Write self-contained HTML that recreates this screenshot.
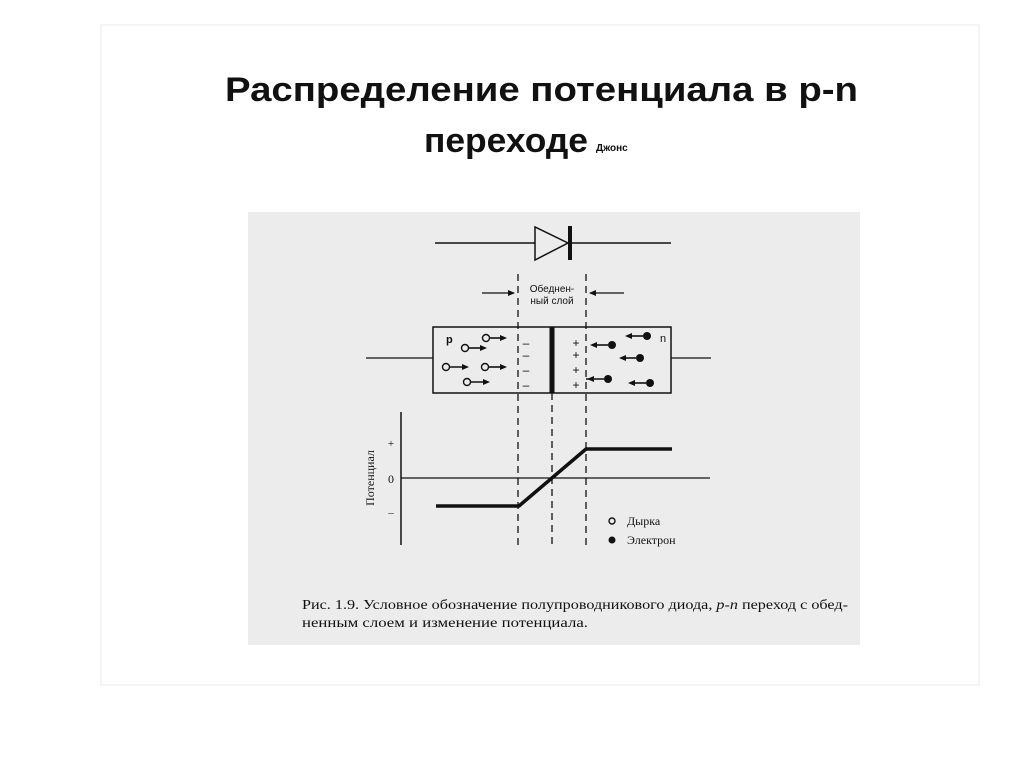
<!DOCTYPE html>
<html><head><meta charset="utf-8"><style>
html,body{margin:0;padding:0;background:#fff;width:1024px;height:767px;overflow:hidden}
</style></head><body>
<svg width="1024" height="767" viewBox="0 0 1024 767" xmlns="http://www.w3.org/2000/svg" font-family="Liberation Sans, DejaVu Sans, sans-serif">
<rect x="0" y="0" width="1024" height="767" fill="#fff"/>
<rect x="101" y="25" width="878" height="660" fill="#fff" stroke="#f4f4f4" stroke-width="2"/>
<text x="225" y="101" font-size="34" font-weight="bold" fill="#111" textLength="633" lengthAdjust="spacingAndGlyphs">Распределение потенциала в p-n</text>
<text x="424" y="152" font-size="34" font-weight="bold" fill="#111" textLength="164" lengthAdjust="spacingAndGlyphs">переходе</text>
<text x="596" y="151" font-size="10" font-weight="bold" fill="#111">Джонс</text>
<rect x="248" y="212" width="612" height="433" fill="#ececec"/>
<g stroke="#111" fill="none">
<line x1="435" y1="243" x2="535" y2="243" stroke-width="1.5"/>
<polygon points="535,227 535,260 568,243" stroke-width="1.5" fill="#ececec"/>
<line x1="570" y1="226" x2="570" y2="260" stroke-width="4"/>
<line x1="570" y1="243" x2="671" y2="243" stroke-width="1.5"/>
<g stroke-dasharray="7,5" stroke-width="1.3">
<line x1="518" y1="274" x2="518" y2="548"/>
<line x1="586" y1="274" x2="586" y2="548"/>
<line x1="552" y1="393" x2="552" y2="548"/>
</g>
<line x1="482" y1="293" x2="514" y2="293" stroke-width="1.3"/>
<line x1="590" y1="293" x2="624" y2="293" stroke-width="1.3"/>
<rect x="433" y="327" width="238" height="66" stroke-width="1.5"/>
<line x1="366" y1="358" x2="433" y2="358" stroke-width="1.3"/>
<line x1="671" y1="358" x2="711" y2="358" stroke-width="1.3"/>
<line x1="552" y1="327" x2="552" y2="393" stroke-width="5"/>
<g stroke-width="1.6">
<line x1="490" y1="338" x2="505" y2="338"/><line x1="469" y1="348" x2="485" y2="348"/>
<line x1="450" y1="367" x2="467" y2="367"/><line x1="489" y1="367" x2="505" y2="367"/>
<line x1="471" y1="382" x2="488" y2="382"/>
<line x1="608" y1="345" x2="592" y2="345"/><line x1="643" y1="336" x2="627" y2="336"/>
<line x1="636" y1="358" x2="621" y2="358"/><line x1="604" y1="379" x2="586" y2="379"/>
<line x1="646" y1="383" x2="630" y2="383"/>
</g>
<g stroke-width="1.4" fill="#ececec">
<circle cx="486" cy="338" r="3.5"/><circle cx="465" cy="348" r="3.5"/>
<circle cx="446" cy="367" r="3.5"/><circle cx="485" cy="367" r="3.5"/>
<circle cx="467" cy="382" r="3.5"/>
</g>
<line x1="401" y1="412" x2="401" y2="545" stroke-width="1.5"/>
<line x1="401" y1="478" x2="710" y2="478" stroke-width="1.3"/>
<polyline points="436,506 519,506 586,449 672,449" stroke-width="3.5"/>
<circle cx="612" cy="521" r="3" stroke-width="1.4"/>
</g>
<g fill="#111">
<polygon points="515,293 508,290 508,296"/>
<polygon points="589,293 596,290 596,296"/>
<polygon points="507,338 500,335 500,341"/><polygon points="487,348 480,345 480,351"/>
<polygon points="469,367 462,364 462,370"/><polygon points="507,367 500,364 500,370"/>
<polygon points="490,382 483,379 483,385"/>
<polygon points="590,345 597,342 597,348"/><polygon points="625,336 632,333 632,339"/>
<polygon points="619,358 626,355 626,361"/><polygon points="587,379 594,376 594,382"/>
<polygon points="628,383 635,380 635,386"/>
<circle cx="612" cy="345" r="4"/><circle cx="647" cy="336" r="4"/>
<circle cx="640" cy="358" r="4"/><circle cx="608" cy="379" r="4"/>
<circle cx="650" cy="383" r="4"/>
<circle cx="612" cy="540" r="3.5"/>
<text x="446" y="343" font-size="11" font-weight="bold">p</text>
<text x="660" y="342" font-size="11">n</text>
<text x="552" y="292" font-size="10" text-anchor="middle">Обеднен-</text>
<text x="552" y="304" font-size="10" text-anchor="middle">ный слой</text>
<g font-size="12" text-anchor="middle">
<text x="526" y="347">–</text><text x="526" y="359">–</text><text x="526" y="374">–</text><text x="526" y="389">–</text>
<text x="576" y="347">+</text><text x="576" y="359">+</text><text x="576" y="374">+</text><text x="576" y="389">+</text>
</g>
<g font-family="Liberation Serif, serif">
<text x="391" y="447" font-size="11" text-anchor="middle">+</text>
<text x="391" y="483" font-size="12" text-anchor="middle">0</text>
<text x="391" y="516" font-size="11" text-anchor="middle">–</text>
<text transform="translate(374,478) rotate(-90)" font-size="12" text-anchor="middle">Потенциал</text>
<text x="627" y="525" font-size="12">Дырка</text>
<text x="627" y="544" font-size="12">Электрон</text>
<text x="302" y="609" font-size="14" textLength="546" lengthAdjust="spacingAndGlyphs">Рис. 1.9. Условное обозначение полупроводникового диода, <tspan font-style="italic">p-n</tspan> переход с обед-</text>
<text x="302" y="627" font-size="14" textLength="286" lengthAdjust="spacingAndGlyphs">ненным слоем и изменение потенциала.</text>
</g>
</g>
</svg>
</body></html>
